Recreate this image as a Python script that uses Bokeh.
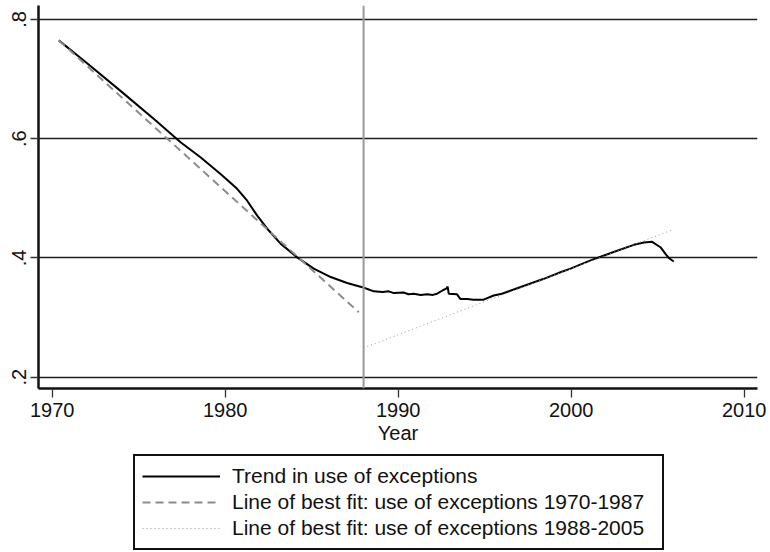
from bokeh.plotting import figure
from bokeh.layouts import column
from bokeh.models import Range1d, Span, Legend, LegendItem, CustomJSTickFormatter
from bokeh.embed import file_html
from bokeh.resources import INLINE

# ---- data ----
trend_year = [1970.38, 1972.0, 1974.0, 1976.0, 1977.42, 1978.57, 1979.73, 1980.69,
              1981.27, 1981.85, 1982.52, 1983.2, 1984.16, 1985.12, 1986.1, 1987.05,
              1987.92, 1988.3, 1988.59, 1989.1, 1989.45, 1989.75, 1990.3, 1990.6,
              1990.9, 1991.3, 1991.68, 1992.0, 1992.25, 1992.54, 1992.8, 1992.86,
              1992.92, 1993.4, 1993.6, 1994.0, 1994.36, 1994.94, 1995.52, 1996.0,
              1996.48, 1997.45, 1998.42, 1999.38, 1999.96, 2001.12, 2001.7, 2002.66,
              2003.62, 2004.2, 2004.68, 2005.16, 2005.45, 2005.64, 2005.93]
trend_val = [0.765, 0.727, 0.679, 0.630, 0.594, 0.569, 0.541, 0.516,
             0.496, 0.471, 0.446, 0.424, 0.401, 0.382, 0.368, 0.358,
             0.351, 0.347, 0.344, 0.343, 0.344, 0.341, 0.342, 0.339,
             0.340, 0.338, 0.339, 0.338, 0.340, 0.345, 0.349, 0.352,
             0.340, 0.339, 0.331, 0.331, 0.330, 0.330, 0.337, 0.340,
             0.345, 0.355, 0.365, 0.376, 0.382, 0.396, 0.402, 0.412,
             0.422, 0.426, 0.427, 0.418, 0.407, 0.400, 0.394]

fit1_year = [1970.38, 1987.72]
fit1_val = [0.765, 0.309]
fit2_year = [1988.0, 2005.84]
fit2_val = [0.249, 0.447]

divider_year = 1988
x_ticks = [1970, 1980, 1990, 2000, 2010]
y_ticks = [0.2, 0.4, 0.6, 0.8]
legend_labels = ["Trend in use of exceptions",
                 "Line of best fit: use of exceptions 1970-1987",
                 "Line of best fit: use of exceptions 1988-2005"]
x_label = "Year"

FONT = "Liberation Sans"

trend_style = dict(line_color="black", line_width=2)
fit1_style = dict(line_color="#8c8c8c", line_width=2, line_dash="8 5")
fit2_style = dict(line_color="#9a9a9a", line_width=1, line_dash="1 3")

p = figure(width=770, height=454, output_backend="svg", toolbar_location=None,
           title=None,
           x_range=Range1d(1969.208, 2010.77), y_range=Range1d(0.181, 0.8235),
           min_border_left=38, min_border_right=13, min_border_top=5,
           min_border_bottom=66)
p.outline_line_color = None
p.background_fill_color = "white"
p.border_fill_color = "white"

# grids
p.xgrid.visible = False
p.ygrid.ticker = y_ticks
p.ygrid.grid_line_color = "#1e1e1e"
p.ygrid.grid_line_width = 1.4

# axes
p.xaxis.ticker = x_ticks
p.yaxis.ticker = y_ticks
p.yaxis.formatter = CustomJSTickFormatter(code="return tick.toFixed(1).replace(/^0/, '');")
for ax in (p.xaxis, p.yaxis):
    ax.axis_line_color = "#111111"
    ax.axis_line_width = 2.5
    ax.major_tick_line_color = "#333333"
    ax.major_tick_line_width = 1.3
    ax.major_tick_in = 0
    ax.minor_tick_line_color = None
    ax.major_label_text_font = FONT
    ax.major_label_text_font_size = "20px"
    ax.major_label_text_color = "#111111"
p.xaxis.major_tick_out = 9
p.yaxis.major_tick_out = 8
p.xaxis.major_label_standoff = 5
p.yaxis.major_label_standoff = 4
p.yaxis.major_label_orientation = "vertical"
p.xaxis.axis_label = x_label
p.xaxis.axis_label_text_font = FONT
p.xaxis.axis_label_text_font_size = "20px"
p.xaxis.axis_label_text_font_style = "normal"
p.xaxis.axis_label_text_color = "#111111"
p.xaxis.axis_label_standoff = 2

# divider line
p.add_layout(Span(location=divider_year, dimension="height",
                  line_color="#9a9a9a", line_width=2))

p.line(trend_year, trend_val, **trend_style)
p.line(fit1_year, fit1_val, **fit1_style)
p.line(fit2_year, fit2_val, **fit2_style)

# ---- legend panel below the chart (series drawn off-range as legend proxies) ----
q = figure(width=770, height=98, output_backend="svg", toolbar_location=None,
           title=None, x_axis_type=None, y_axis_type=None,
           x_range=Range1d(0, 1), y_range=Range1d(0, 1),
           min_border_left=0, min_border_right=0, min_border_top=0, min_border_bottom=0)
q.outline_line_color = None
q.xgrid.visible = False
q.ygrid.visible = False
q.background_fill_color = "white"
q.border_fill_color = "white"
k1 = q.line(trend_year, trend_val, **trend_style)
k2 = q.line(fit1_year, fit1_val, **fit1_style)
k3 = q.line(fit2_year, fit2_val, **fit2_style)

legend = Legend(items=[LegendItem(label=legend_labels[0], renderers=[k1]),
                       LegendItem(label=legend_labels[1], renderers=[k2]),
                       LegendItem(label=legend_labels[2], renderers=[k3])],
                location=(95, 2))
legend.label_text_font = FONT
legend.label_text_font_size = "21px"
legend.label_text_color = "#111111"
legend.label_height = 26
legend.glyph_height = 26
legend.glyph_width = 78
legend.label_standoff = 12
legend.label_width = 423
legend.spacing = 0
legend.padding = 7
legend.margin = 0
legend.border_line_color = "#111111"
legend.border_line_width = 2
legend.border_line_alpha = 1
legend.background_fill_color = "white"
legend.background_fill_alpha = 1
q.add_layout(legend)

layout = column(p, q, spacing=0)
open("out.html", "w").write(file_html(layout, INLINE))
